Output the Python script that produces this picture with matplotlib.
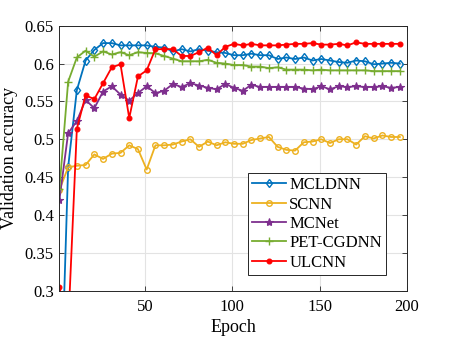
import matplotlib
matplotlib.use("Agg")
import matplotlib.pyplot as plt

epochs = list(range(1, 200, 5))

mcldnn = [0.09, 0.463, 0.565, 0.604, 0.618, 0.627, 0.627, 0.624, 0.624, 0.624,
          0.624, 0.622, 0.621, 0.616, 0.619, 0.616, 0.619, 0.617, 0.615, 0.614,
          0.611, 0.611, 0.613, 0.611, 0.611, 0.606, 0.608, 0.606, 0.608, 0.604,
          0.606, 0.604, 0.602, 0.601, 0.604, 0.603, 0.599, 0.600, 0.601, 0.600]
scnn = [0.433, 0.463, 0.465, 0.466, 0.480, 0.474, 0.481, 0.482, 0.492, 0.487,
        0.460, 0.492, 0.492, 0.493, 0.497, 0.500, 0.490, 0.497, 0.492, 0.496,
        0.494, 0.494, 0.499, 0.501, 0.503, 0.490, 0.486, 0.485, 0.496, 0.497,
        0.500, 0.495, 0.500, 0.500, 0.493, 0.504, 0.501, 0.505, 0.503, 0.503]
mcnet = [0.420, 0.508, 0.524, 0.552, 0.541, 0.563, 0.570, 0.559, 0.551, 0.561,
         0.570, 0.561, 0.564, 0.573, 0.569, 0.574, 0.571, 0.568, 0.566, 0.573,
         0.568, 0.564, 0.572, 0.569, 0.569, 0.569, 0.569, 0.569, 0.567, 0.566,
         0.570, 0.566, 0.570, 0.569, 0.570, 0.569, 0.569, 0.570, 0.568, 0.569]
petcgdnn = [0.434, 0.576, 0.608, 0.617, 0.609, 0.616, 0.612, 0.615, 0.611, 0.615,
            0.614, 0.6135, 0.610, 0.6065, 0.603, 0.603, 0.603, 0.605, 0.601, 0.600,
            0.598, 0.598, 0.596, 0.596, 0.594, 0.595, 0.592, 0.592, 0.592, 0.591,
            0.592, 0.591, 0.591, 0.591, 0.591, 0.591, 0.590, 0.590, 0.590, 0.590]
ulcnn = [0.305, 0.25, 0.514, 0.558, 0.553, 0.574, 0.595, 0.599, 0.528, 0.583,
         0.591, 0.619, 0.619, 0.619, 0.610, 0.610, 0.615, 0.621, 0.611, 0.622,
         0.626, 0.624, 0.626, 0.624, 0.624, 0.624, 0.625, 0.626, 0.626, 0.627,
         0.625, 0.625, 0.626, 0.624, 0.628, 0.626, 0.626, 0.626, 0.626, 0.626]

names = ["MCLDNN", "SCNN", "MCNet", "PET-CGDNN", "ULCNN"]
yticks = [0.3, 0.35, 0.4, 0.45, 0.5, 0.55, 0.6, 0.65]
xticks = [50, 100, 150, 200]

plt.rcParams['font.family'] = ['Liberation Serif', 'DejaVu Serif']
plt.rcParams['mathtext.fontset'] = 'stix'

fig = plt.figure(figsize=(4.5, 3.38), dpi=100)
ax = fig.add_axes([0.132, 0.14, 0.772, 0.784])

styles = [
    dict(color='#0072BD', marker='d', ms=4.5, mfc='none', mew=1.0),
    dict(color='#EDB120', marker='o', ms=4.0, mfc='none', mew=1.0),
    dict(color='#7E2F8E', marker='*', ms=6.0, mew=0.8),
    dict(color='#77AC30', marker='+', ms=5.5, mew=1.0),
    dict(color='#FF0000', marker='o', ms=3.5, mew=0.8),
]
series = [mcldnn, scnn, mcnet, petcgdnn, ulcnn]
for name, vals, st in zip(names, series, styles):
    ax.plot(epochs, vals, lw=1.3, label=name, **st)

ax.set_xlim(1, 200)
ax.set_ylim(0.3, 0.65)
ax.set_xticks(xticks)
ax.set_yticks(yticks)
ax.set_yticklabels(['0.3', '0.35', '0.4', '0.45', '0.5', '0.55', '0.6', '0.65'])
ax.grid(True, color='#e3e3e3', lw=0.8)
ax.set_axisbelow(True)
ax.tick_params(direction='in', top=True, right=True, labelsize=12,
               color='#262626', length=3.5, width=0.6, pad=4)
ax.tick_params(axis='x', pad=6)
for s in ax.spines.values():
    s.set_color('#262626')
    s.set_linewidth(0.7)
ax.set_xlabel('Epoch', fontsize=13, labelpad=3)
ax.set_ylabel('Validation accuracy', fontsize=13, labelpad=5)

leg = ax.legend(loc='lower right', bbox_to_anchor=(0.94, 0.06), fontsize=12,
                fancybox=False, edgecolor='#262626', framealpha=1,
                handlelength=2.0, handletextpad=0.2, borderpad=0.25,
                labelspacing=0.2, borderaxespad=0)
leg.get_frame().set_linewidth(0.7)

fig.savefig('out.png', dpi=100)
